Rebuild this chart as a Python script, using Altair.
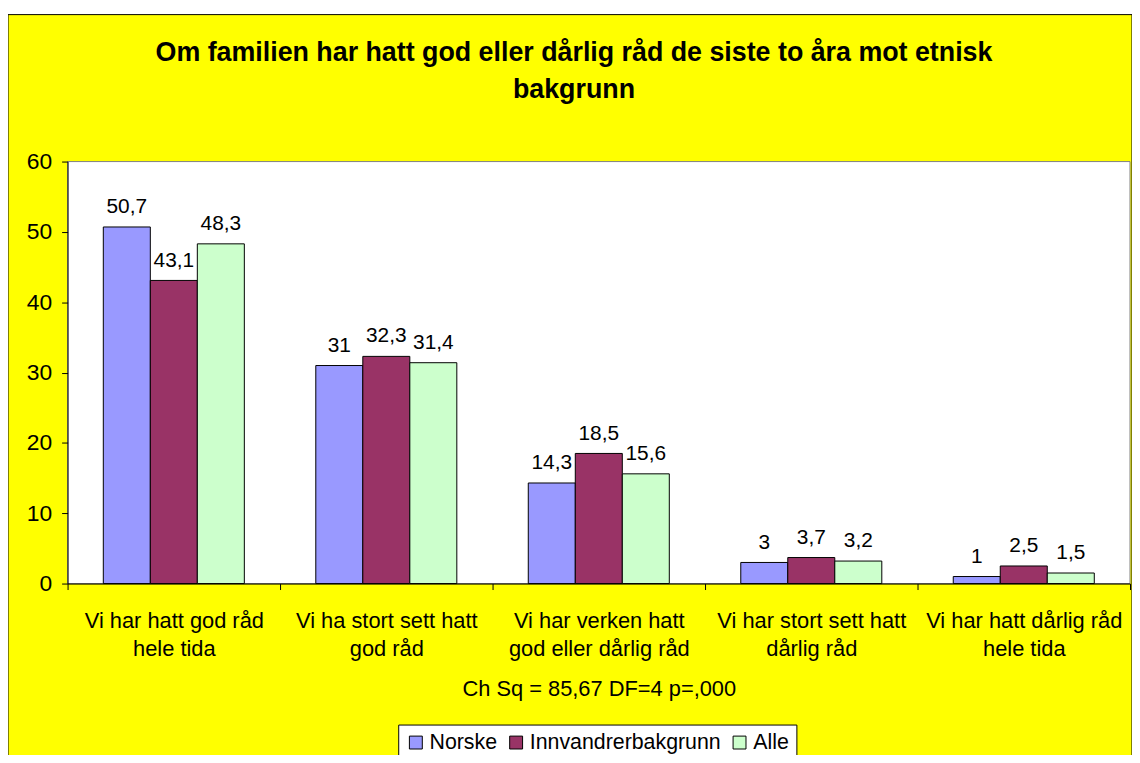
import altair as alt
import pandas as pd

categories = [
    "Vi har hatt god råd\nhele tida",
    "Vi ha stort sett hatt\ngod råd",
    "Vi har verken hatt\ngod eller dårlig råd",
    "Vi har stort sett hatt\ndårlig råd",
    "Vi har hatt dårlig råd\nhele tida",
]
series = ["Norske", "Innvandrerbakgrunn", "Alle"]
norske = [50.7, 31, 14.3, 3, 1]
innvandrer = [43.1, 32.3, 18.5, 3.7, 2.5]
alle = [48.3, 31.4, 15.6, 3.2, 1.5]
colors = ["#9999FF", "#993366", "#CCFFCC"]
y_ticks = [0, 10, 20, 30, 40, 50, 60]
title_lines = ["Om familien har hatt god eller dårlig råd de siste to åra mot etnisk", "bakgrunn"]
x_title = "Ch Sq = 85,67 DF=4 p=,000"

FONT = "Liberation Sans"

rows = []
for s, vals in zip(series, [norske, innvandrer, alle]):
    for c, v in zip(categories, vals):
        rows.append({"category": c, "series": s, "value": v,
                     "label": f"{v:g}".replace(".", ",")})
df = pd.DataFrame(rows)

W, H = 1070, 425

x_enc = alt.X(
    "category:N", sort=categories,
    scale=alt.Scale(paddingInner=0, paddingOuter=0),
    axis=alt.Axis(
        title=x_title, titleFont=FONT, titleFontSize=22, titleFontWeight="normal",
        titleColor="black", titlePadding=20,
        labelFont=FONT, labelFontSize=22, labelColor="black", labelAngle=0,
        labelLineHeight=28, labelPadding=21, labelLimit=400,
        labelExpr="split(datum.label, '\\n')",
        tickBand="extent", tickSize=6, tickColor="black", domainColor="black",
        zindex=1,
    ),
)
xoff_enc = alt.XOffset("series:N", sort=series,
                       scale=alt.Scale(paddingInner=0, paddingOuter=0.76))
y_enc = alt.Y(
    "value:Q", scale=alt.Scale(domain=[0, 60], nice=False),
    axis=alt.Axis(
        title=None, values=y_ticks, grid=False,
        labelFont=FONT, labelFontSize=23, labelColor="black", labelPadding=10,
        tickSize=6, tickColor="black", domainColor="black", zindex=1,
    ),
)

one = alt.InlineData(values=[{"k": 1}])

bg = alt.Chart(one).mark_rect(fill="#FFFF00", stroke="black", strokeWidth=1).encode(
    x=alt.value(-60), x2=alt.value(W + 2), y=alt.value(-148), y2=alt.value(H + 200)
)
plot_bg = alt.Chart(one).mark_rect(fill="white", stroke="#808080", strokeWidth=1).encode(
    x=alt.value(0), x2=alt.value(W), y=alt.value(0), y2=alt.value(H)
)

bars = alt.Chart(df).mark_bar(stroke="black", strokeWidth=1).encode(
    x=x_enc,
    xOffset=xoff_enc,
    y=y_enc,
    color=alt.Color(
        "series:N", sort=series,
        scale=alt.Scale(domain=series, range=colors),
        legend=alt.Legend(
            title=None, orient="none", legendX=333, legendY=567, direction="horizontal",
            symbolType="square", symbolSize=169, symbolStrokeColor="black",
            symbolStrokeWidth=1, labelFont=FONT, labelFontSize=21.5, labelColor="black",
            labelLimit=0, labelOffset=3, columnPadding=8, padding=7,
            strokeColor="black", fillColor="white",
        ),
    ),
)

labels = alt.Chart(df).mark_text(
    font=FONT, fontSize=21, color="black", baseline="alphabetic", dy=-14
).encode(
    x=alt.X("category:N", sort=categories),
    xOffset=alt.XOffset("series:N", sort=series),
    y=alt.Y("value:Q"),
    text="label:N",
)

title = alt.Chart(one).mark_text(
    font=FONT, fontSize=27, fontWeight="bold", color="black",
    align="center", baseline="alphabetic", lineHeight=37,
).encode(x=alt.value(510), y=alt.value(-101), text=alt.value(title_lines))

chart = alt.layer(bg, plot_bg, bars, labels, title).properties(
    width=W, height=H,
    autosize=alt.AutoSizeParams(type="none"),
    padding={"left": 60, "top": 152, "right": 2, "bottom": 170},
    background="white",
).configure_view(stroke=None)

chart.save("out.html", embed_options={"renderer": "svg", "actions": False})
